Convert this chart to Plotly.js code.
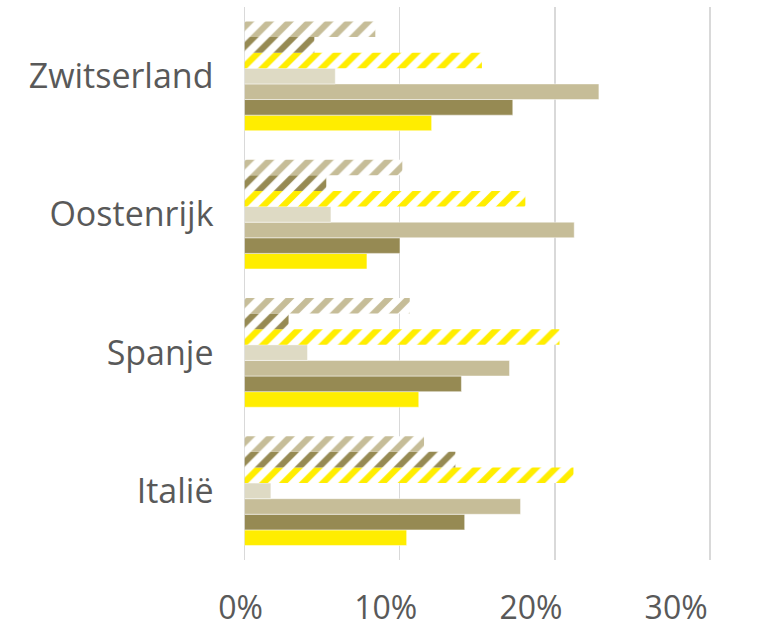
<!DOCTYPE html>
<html>
<head>
<meta charset="utf-8">
<script src="https://cdn.plot.ly/plotly-3.0.1.min.js"></script>
<style>html,body{margin:0;padding:0;background:#fff;}#chart{width:772px;height:625px;}</style>
</head>
<body>
<div id="chart"></div>
<script>
const categories = ["Italië", "Spanje", "Oostenrijk", "Zwitserland"];
const tickVals = [0, 0.1, 0.2, 0.3];
const tickText = ["0%", "10%", "20%", "30%"];

// bottom-to-top within each group
const seriesNames = ["Reeks 1", "Reeks 2", "Reeks 3", "Reeks 4", "Reeks 5", "Reeks 6", "Reeks 7"];
const s1 = [0.1045, 0.1123, 0.0789, 0.1206];  // yellow solid
const s2 = [0.1419, 0.1398, 0.1002, 0.1729];  // olive solid
const s3 = [0.1779, 0.1708, 0.2125, 0.2284];  // tan solid
const s4 = [0.0170, 0.0406, 0.0557, 0.0585];  // beige solid
const s5 = [0.2120, 0.2030, 0.1810, 0.1530];  // yellow hatched
const s6 = [0.1359, 0.0284, 0.0527, 0.0450];  // olive hatched
const s7 = [0.1157, 0.1065, 0.1017, 0.0843];  // tan hatched

const seriesValues = [s1, s2, s3, s4, s5, s6, s7];
const colors = ["#FFED00", "#968A53", "#C6BD98", "#DEDAC4", "#FFED00", "#968A53", "#C6BD98"];
const hatched = [false, false, false, false, true, true, true];

const traces = seriesValues.map((vals, i) => {
  const marker = {color: colors[i], line: {color: "rgba(255,255,255,0.8)", width: 0.6}};
  if (hatched[i]) {
    marker.pattern = {shape: "/", fgcolor: colors[i], bgcolor: "#ffffff", size: 14, solidity: 0.45, fillmode: "replace"};
    marker.line = {width: 0};
  }
  return {
    type: "bar",
    orientation: "h",
    name: seriesNames[i],
    y: categories,
    x: vals,
    xaxis: "x",
    yaxis: "y",
    marker: marker,
    hoverinfo: "x+name"
  };
});

// empty helper trace so the tick-label axis gets drawn
traces.push({
  type: "scatter",
  mode: "markers",
  x: [],
  y: [],
  xaxis: "x2",
  yaxis: "y",
  showlegend: false,
  hoverinfo: "skip"
});

// plot region: paper x 230..732; main axis: 0 at 244.5, 0.3 at 710
const W = 772, L = 230, R = 40;
const innerW = W - L - R;
const xMax = 0.305;
const scale = (710 - 244.5) / 0.3;
const d0 = (244.5 - L) / innerW;
const d1 = (244.5 + xMax * scale - L) / innerW;
// tick-label axis (labels spaced like the reference, 145 px per 10%)
const pxPerUnit = 1452;
const r0 = -(240.5 - L) / pxPerUnit;
const r1 = r0 + innerW / pxPerUnit;

const layout = {
  width: 772,
  height: 625,
  margin: {l: L, r: R, t: 7, b: 65},
  paper_bgcolor: "#ffffff",
  plot_bgcolor: "rgba(0,0,0,0)",
  barmode: "group",
  bargap: 0.21,
  bargroupgap: 0,
  showlegend: false,
  font: {family: "Open Sans, sans-serif", color: "#595959", size: 32},
  xaxis: {
    domain: [d0, d1],
    range: [0, xMax],
    tickvals: tickVals,
    showticklabels: false,
    showgrid: true,
    gridcolor: "#D9D9D9",
    gridwidth: 1.5,
    zeroline: true,
    zerolinecolor: "#D9D9D9",
    zerolinewidth: 1.5,
    showline: false,
    ticks: "",
    fixedrange: true
  },
  xaxis2: {
    domain: [0, 1],
    anchor: "y",
    side: "bottom",
    range: [r0, r1],
    tickvals: tickVals,
    ticktext: tickText,
    showgrid: false,
    zeroline: false,
    showline: false,
    ticks: "",
    ticklabelstandoff: 26,
    tickfont: {size: 32, color: "#595959"},
    fixedrange: true
  },
  yaxis: {
    type: "category",
    anchor: "x",
    showgrid: false,
    zeroline: false,
    showline: false,
    ticks: "",
    ticklabelstandoff: 30,
    tickfont: {size: 34, color: "#595959"},
    fixedrange: true
  }
};

Plotly.newPlot("chart", traces, layout, {displayModeBar: false, staticPlot: true});
</script>
</body>
</html>
